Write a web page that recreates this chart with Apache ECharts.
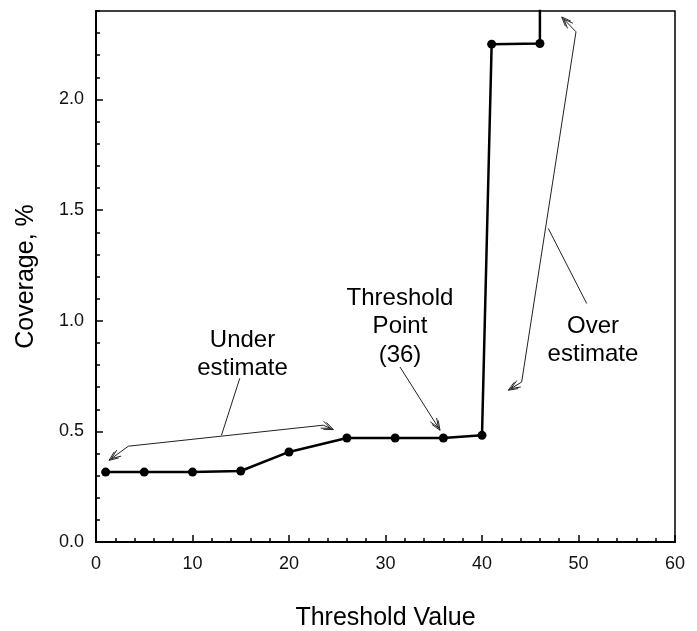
<!DOCTYPE html>
<html>
<head>
<meta charset="utf-8">
<script src="https://cdn.jsdelivr.net/npm/echarts@6/dist/echarts.min.js"></script>
<style>
html,body{margin:0;padding:0;background:#fff;}
#chart{width:697px;height:631px;}
</style>
</head>
<body>
<div id="chart"></div>
<script>
// ---- data ----
const thresholdValues = [1, 5, 10, 15, 20, 26, 31, 36, 40, 41, 46, 46];
const coverageValues  = [0.316, 0.316, 0.316, 0.321, 0.407, 0.470, 0.470, 0.470, 0.482, 2.250, 2.253, 3.0];
const xTickLabels = ['0', '10', '20', '30', '40', '50', '60'];
const yTickLabels = ['0.0', '0.5', '1.0', '1.5', '2.0'];

// annotation geometry in data coordinates
const underArrow     = [[1.35, 0.369], [3.35, 0.433], [23.55, 0.528], [24.6, 0.508]];
const underLeader    = [[13.0, 0.482], [14.9, 0.740]];
const thresholdArrow = [[31.5, 0.791], [35.65, 0.505]];
const overArrow      = [[48.26, 2.373], [49.74, 2.306], [44.11, 0.723], [42.73, 0.686]];
const overLeader     = [[50.85, 1.078], [46.87, 1.417]];
const annotationTexts = [
  { text: 'Under\nestimate', at: [15.18, 0.849] },
  { text: 'Threshold\nPoint\n(36)', at: [31.5, 0.973] },
  { text: 'Over\nestimate', at: [51.5, 0.912] }
];

const FONT = "'Liberation Sans', Arial, sans-serif";

const seriesData = thresholdValues.map((x, i) => {
  const item = { value: [x, coverageValues[i]] };
  if (coverageValues[i] > 2.4) item.symbol = 'none';
  return item;
});

const chart = echarts.init(document.getElementById('chart'), null, { renderer: 'canvas' });

chart.setOption({
  animation: false,
  backgroundColor: '#fff',
  grid: {
    left: 96, right: 22, top: 11, bottom: 89,
    show: true, borderColor: '#000', borderWidth: 1.5, backgroundColor: 'transparent',
    containLabel: false, outerBoundsMode: 'none'
  },
  xAxis: {
    type: 'value', min: 0, max: 60, interval: 10,
    axisLine: { show: true, lineStyle: { color: '#000', width: 2 } },
    axisTick: { show: true, inside: true, length: 7, lineStyle: { color: '#000', width: 1.5 } },
    minorTick: { show: true, splitNumber: 5, length: 4, lineStyle: { color: '#000', width: 1.5 } },
    splitLine: { show: false },
    axisLabel: {
      margin: 13, color: '#111', fontSize: 18, fontFamily: FONT,
      formatter: v => { const i = Math.round(v / 10); return xTickLabels[i] !== undefined ? xTickLabels[i] : ''; }
    },
    name: 'Threshold Value', nameLocation: 'middle', nameGap: 64,
    nameTextStyle: { color: '#000', fontSize: 25, fontFamily: FONT }
  },
  yAxis: [
    {
      type: 'value', min: 0, max: 2.4, interval: 0.5, position: 'left',
      axisLine: { show: true, lineStyle: { color: '#000', width: 2 } },
      axisTick: { show: true, inside: true, length: 7, lineStyle: { color: '#000', width: 1.5 } },
      splitLine: { show: false },
      axisLabel: {
        margin: 12, color: '#111', fontSize: 18, fontFamily: FONT, showMaxLabel: false,
        formatter: v => { const i = Math.round(v / 0.5); return (Math.abs(v - i * 0.5) < 1e-6 && yTickLabels[i] !== undefined) ? yTickLabels[i] : ''; }
      },
      name: 'Coverage, %', nameLocation: 'middle', nameGap: 57, nameRotate: 90,
      nameTextStyle: { color: '#000', fontSize: 25, fontFamily: FONT }
    },
    {
      type: 'value', min: 0, max: 2.4, interval: 0.1, position: 'left', offset: 0,
      axisLine: { show: false },
      axisTick: { show: true, inside: true, length: 4, lineStyle: { color: '#000', width: 1.5 } },
      splitLine: { show: false },
      axisLabel: { show: false }
    }
  ],
  series: [{
    type: 'line',
    xAxisIndex: 0, yAxisIndex: 0,
    data: seriesData,
    symbol: 'circle', symbolSize: 9,
    clip: true,
    lineStyle: { color: '#000', width: 2.5 },
    itemStyle: { color: '#000' },
    z: 5
  }]
});

function px(p) { return chart.convertToPixel({ xAxisIndex: 0, yAxisIndex: 0 }, p); }

function arrowHead(tip, from) {
  const dx = tip[0] - from[0], dy = tip[1] - from[1];
  const len = Math.hypot(dx, dy) || 1;
  const ux = dx / len, uy = dy / len;
  const out = [];
  const ang = 22 * Math.PI / 180;
  [0, 3].forEach(back => {
    const tx = tip[0] - ux * back, ty = tip[1] - uy * back;
    const L = 10;
    const pts = [];
    [ang, -ang].forEach(a => {
      const cx = -ux * Math.cos(a) + uy * Math.sin(a);
      const cy = -uy * Math.cos(a) - ux * Math.sin(a);
      pts.push([tx + cx * L, ty + cy * L]);
    });
    out.push({
      type: 'polyline', silent: true, z: 20,
      shape: { points: [pts[0], [tx, ty], pts[1]] },
      style: { stroke: '#222', lineWidth: 1, fill: null }
    });
  });
  return out;
}

function pathGraphic(ptsData, startHead, endHead) {
  const pts = ptsData.map(px);
  const g = [{
    type: 'polyline', silent: true, z: 20,
    shape: { points: pts },
    style: { stroke: '#222', lineWidth: 1, fill: null }
  }];
  if (startHead) g.push(...arrowHead(pts[0], pts[1]));
  if (endHead) g.push(...arrowHead(pts[pts.length - 1], pts[pts.length - 2]));
  return g;
}

const graphics = [];
graphics.push(...pathGraphic(underArrow, true, true));
graphics.push(...pathGraphic(underLeader, false, false));
graphics.push(...pathGraphic(thresholdArrow, false, true));
graphics.push(...pathGraphic(overArrow, true, true));
graphics.push(...pathGraphic(overLeader, false, false));
annotationTexts.forEach(t => {
  const p = px(t.at);
  graphics.push({
    type: 'text', silent: true, z: 21,
    x: p[0], y: p[1],
    style: {
      text: t.text, fill: '#000', font: "24px " + FONT,
      align: 'center', verticalAlign: 'middle', lineHeight: 28.5
    }
  });
});

chart.setOption({ graphic: graphics });
</script>
</body>
</html>
